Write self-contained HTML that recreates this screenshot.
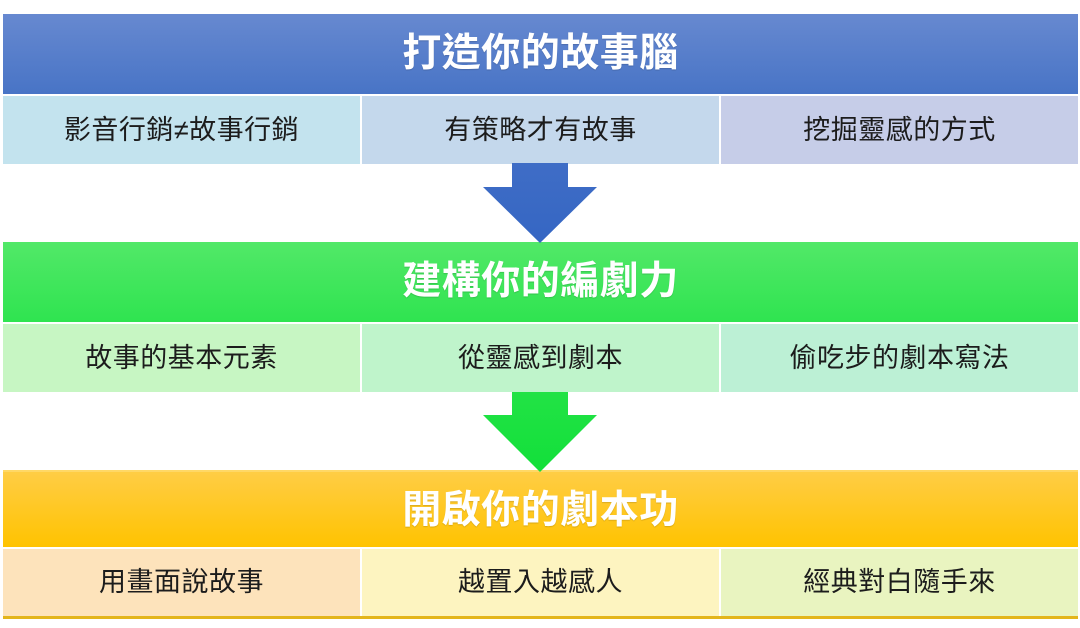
<!DOCTYPE html>
<html><head><meta charset="utf-8"><style>
html,body{margin:0;padding:0;background:#fff;}
body{width:1080px;height:628px;position:relative;overflow:hidden;font-family:"Liberation Sans","Noto Sans CJK TC","Noto Sans CJK SC",sans-serif;}
.hd{position:absolute;left:3px;width:1075px;height:80px;color:#fff;font-weight:bold;font-size:39px;line-height:80px;text-align:center;letter-spacing:0.5px;text-shadow:0 1px 1px rgba(0,0,0,0.15);}
.c{position:absolute;height:68px;line-height:68px;text-align:center;font-size:27px;color:#1c1c1c;letter-spacing:0.5px;}
.c1{left:3px;width:357px;}
.c2{left:362px;width:357px;}
.c3{left:721px;width:357px;}
svg{position:absolute;left:0;top:0;}
</style></head><body>
<div class="hd" style="top:14px;background:linear-gradient(#6789d0,#4874c6);">打造你的故事腦</div>
<div class="c c1" style="top:96px;background:#c3e3ee;">影音行銷≠故事行銷</div>
<div class="c c2" style="top:96px;background:#c4d8ec;">有策略才有故事</div>
<div class="c c3" style="top:96px;background:#c6cde8;">挖掘靈感的方式</div>

<div class="hd" style="top:242px;background:linear-gradient(#52e868,#2fe450);">建構你的編劇力</div>
<div class="c c1" style="top:324px;background:#c7f6c3;">故事的基本元素</div>
<div class="c c2" style="top:324px;background:#bff4cb;">從靈感到劇本</div>
<div class="c c3" style="top:324px;background:#bcf0d5;">偷吃步的劇本寫法</div>

<div class="hd" style="top:470px;height:77px;line-height:77px;background:linear-gradient(#ffcd45,#ffc300);border-top:2px solid #ffd866;box-sizing:border-box;">開啟你的劇本功</div>
<div class="c c1" style="top:549px;height:67px;line-height:67px;background:#fde3bb;">用畫面說故事</div>
<div class="c c2" style="top:549px;height:67px;line-height:67px;background:#fdf4c0;">越置入越感人</div>
<div class="c c3" style="top:549px;height:67px;line-height:67px;background:#e9f4c0;">經典對白隨手來</div>
<div style="position:absolute;left:3px;top:616px;width:1075px;height:3px;background:#e3b51c;"></div>

<svg width="1080" height="628" viewBox="0 0 1080 628">
<defs>
<linearGradient id="gb" x1="0" y1="0" x2="0" y2="1"><stop offset="0" stop-color="#3f6dc6"/><stop offset="1" stop-color="#3566c3"/></linearGradient>
<linearGradient id="gg" x1="0" y1="0" x2="0" y2="1"><stop offset="0" stop-color="#22e245"/><stop offset="1" stop-color="#12e03a"/></linearGradient>
</defs>
<polygon points="512,163 568,163 568,187 597,187 540,243 483,187 512,187" fill="url(#gb)"/>
<polygon points="512,392 568,392 568,415 597,415 540,472 483,415 512,415" fill="url(#gg)"/>
</svg>
</body></html>
